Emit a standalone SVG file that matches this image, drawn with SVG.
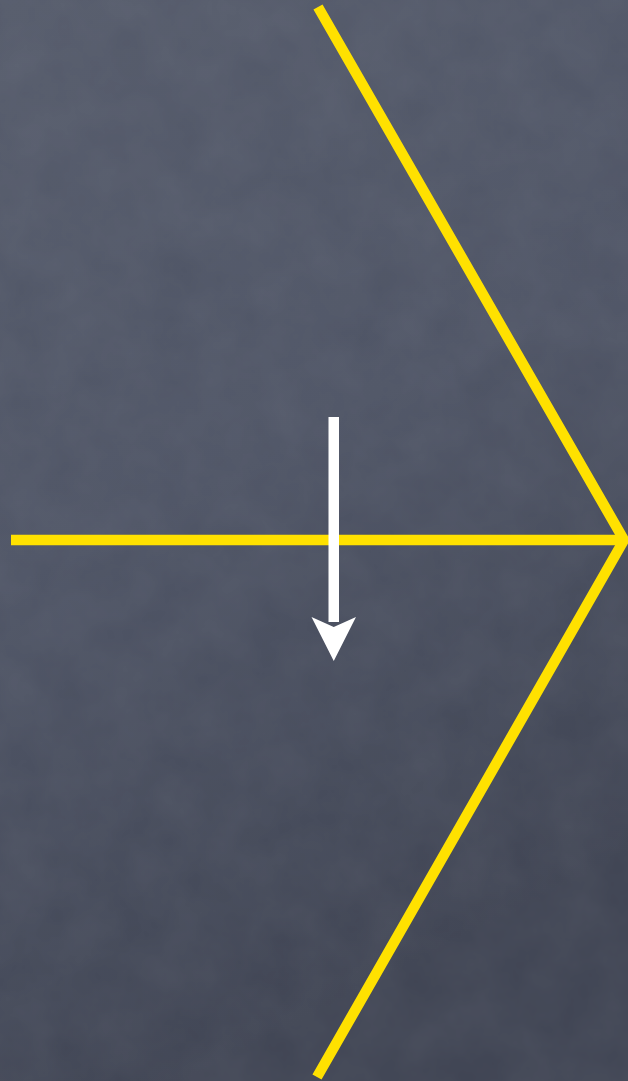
<svg xmlns="http://www.w3.org/2000/svg" width="628" height="1081" viewBox="0 0 628 1081">
<defs>
<linearGradient id="bg" x1="0" y1="0" x2="0.3" y2="1">
<stop offset="0" stop-color="#545a6a"/>
<stop offset="0.5" stop-color="#4e5465"/>
<stop offset="1" stop-color="#3f4453"/>
</linearGradient>
<filter id="tex" x="0" y="0" width="100%" height="100%">
<feTurbulence type="fractalNoise" baseFrequency="0.02" numOctaves="4" seed="3" result="n"/>
<feColorMatrix in="n" type="matrix" values="0 0 0 0 1  0 0 0 0 1  0 0 0 0 1  0 0 0 0.12 0" result="w"/>
<feComposite in="w" in2="SourceGraphic" operator="in"/>
</filter>
<style>
.y{fill:none;stroke:#ffe100;stroke-width:10.5;stroke-linejoin:miter;stroke-miterlimit:10}
.w{fill:#ffffff}
</style>
</defs>
<rect id="background" width="628" height="1081" fill="url(#bg)"/>
<rect width="628" height="1081" fill="#000" filter="url(#tex)" opacity="0.5"/>
<g id="connectors">
<line class="y" x1="11" y1="540" x2="624" y2="540"/>
<polyline class="y" points="318,7 624,540 317,1077"/>
</g>
<g id="arrow">
<rect class="w" x="328.5" y="417" width="10.5" height="205"/>
<path class="w" d="M311.5,617 L333.75,627 L356,617 L333.75,661 Z"/>
</g>
</svg>
